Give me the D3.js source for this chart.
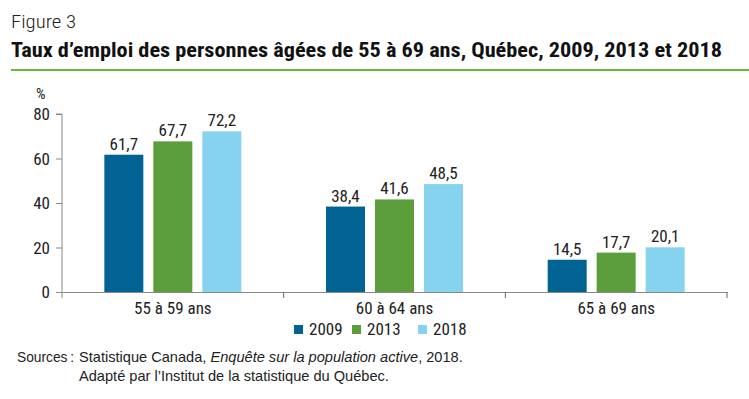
<!DOCTYPE html>
<html><head><meta charset="utf-8">
<script src="https://cdn.jsdelivr.net/npm/d3@7"></script>
<style>
body{margin:0;background:#fff;}
svg{display:block;}
.cond{font-family:"Liberation Sans Narrow","Arial Narrow","Roboto Condensed","Liberation Sans",sans-serif;}
.reg{font-family:"Liberation Sans",Arial,Helvetica,sans-serif;}
</style>
</head><body>
<svg id="chart" width="749" height="399"></svg>
<script>
const categories = ["55 à 59 ans","60 à 64 ans","65 à 69 ans"];
const seriesNames = ["2009","2013","2018"];
const values2009 = [61.7,38.4,14.5];
const values2013 = [67.7,41.6,17.7];
const values2018 = [72.2,48.5,20.1];
const yTicks = [0,20,40,60,80];
const colors = ["#006394","#5c9e3b","#86d3f0"];

const svg = d3.select("#chart");
const fmt = v => d3.format(".1f")(v).replace(".", ",");

// Title
svg.append("text").attr("class","cond").attr("x",11).attr("y",28)
  .attr("font-size",18).attr("font-weight",300).attr("fill","#222")
  .attr("textLength",65).attr("lengthAdjust","spacingAndGlyphs").text("Figure 3");
svg.append("text").attr("class","cond").attr("x",11).attr("y",57)
  .attr("font-size",21).attr("font-weight","bold").attr("fill","#111")
  .attr("textLength",711).attr("lengthAdjust","spacingAndGlyphs")
  .text("Taux d’emploi des personnes âgées de 55 à 69 ans, Québec, 2009, 2013 et 2018");
svg.append("line").attr("x1",11).attr("x2",749).attr("y1",70).attr("y2",70)
  .attr("stroke","#6db33f").attr("stroke-width",2.2);

const x0 = d3.scaleBand().domain(categories).range([62,727]).paddingInner(0).paddingOuter(0);
const x1 = d3.scaleBand().domain(seriesNames).range([0,x0.bandwidth()]).paddingInner(0.204).paddingOuter(0.864);
const y = d3.scaleLinear().domain([0,80]).range([292,114]);

// Y axis
const yAxis = svg.append("g").attr("transform","translate(62,0)")
  .call(d3.axisLeft(y).tickValues(yTicks).tickSize(6).tickPadding(6).tickFormat(d3.format("d")));
yAxis.select(".domain").attr("stroke","#888").attr("d","M-6,114H0V298");
yAxis.selectAll(".tick line").attr("stroke","#888");
yAxis.selectAll("text").attr("class","cond").attr("font-size",17).attr("fill","#222").attr("dy","0.34em");

svg.append("text").attr("class","cond").attr("x",36).attr("y",99)
  .attr("font-size",15).attr("fill","#222").text("%");

// bars
const data = categories.map((c,i)=>({cat:c, vals:[values2009[i],values2013[i],values2018[i]]}));
const g = svg.selectAll("g.grp").data(data).join("g").attr("class","grp")
  .attr("transform",d=>`translate(${x0(d.cat)},0)`);
g.selectAll("rect").data(d=>d.vals.map((v,j)=>({v,s:seriesNames[j],j})))
  .join("rect")
  .attr("x",d=>x1(d.s)).attr("width",x1.bandwidth())
  .attr("y",d=>y(d.v)).attr("height",d=>y(0)-y(d.v))
  .attr("fill",d=>colors[d.j]);
g.selectAll("text.val").data(d=>d.vals.map((v,j)=>({v,s:seriesNames[j],j})))
  .join("text").attr("class","val cond")
  .attr("x",d=>x1(d.s)+x1.bandwidth()/2).attr("y",d=>y(d.v)-5)
  .attr("text-anchor","middle").attr("font-size",17).attr("fill","#222")
  .text(d=>fmt(d.v));

// X axis
const xAxis = svg.append("g").attr("transform","translate(0,292)")
  .call(d3.axisBottom(x0).tickSize(0).tickPadding(10));
xAxis.select(".domain").attr("stroke","#888").attr("stroke-width",1.2);
xAxis.selectAll("text").attr("class","cond").attr("font-size",17).attr("fill","#222");
const dividers = categories.map(c=>x0(c)+x0.bandwidth());
svg.append("g").selectAll("line").data(dividers).join("line")
  .attr("x1",d=>d).attr("x2",d=>d).attr("y1",292).attr("y2",298)
  .attr("stroke","#666");

// legend
const legX = [294,352,418];
const leg = svg.append("g").selectAll("g").data(seriesNames).join("g")
  .attr("transform",(d,i)=>`translate(${legX[i]},325)`);
leg.append("rect").attr("width",9).attr("height",9).attr("fill",(d,i)=>colors[i]);
leg.append("text").attr("class","cond").attr("x",15).attr("y",9.5)
  .attr("font-size",17).attr("fill","#222").text(d=>d);

// sources
const src = svg.append("g").attr("class","reg").attr("font-size",14.6).attr("fill","#222");
src.append("text").attr("x",17).attr("y",362)
  .attr("textLength",57).attr("lengthAdjust","spacingAndGlyphs").text("Sources\u2009:");
const t1 = src.append("text").attr("x",79).attr("y",362);
t1.append("tspan").text("Statistique Canada, ");
t1.append("tspan").attr("font-style","italic").text("Enquête sur la population active");
t1.append("tspan").text(", 2018.");
src.append("text").attr("x",79).attr("y",381).text("Adapté par l’Institut de la statistique du Québec.");
</script>
</body></html>
